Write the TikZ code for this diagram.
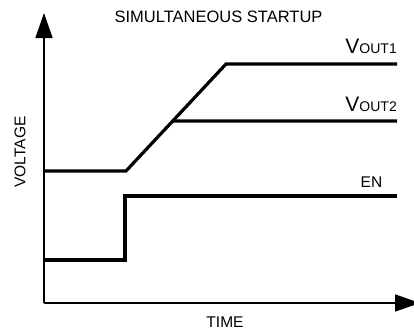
\documentclass[tikz,border=0pt]{standalone}
\usepackage{fontspec}
\setmainfont{Liberation Sans}
\usepackage{tikz}
\usetikzlibrary{arrows.meta,calc}
\newcommand{\lblfont}{\fontsize{15.5}{18}\selectfont}
\newcommand{\vout}[1]{\fontsize{21}{22}\selectfont V\raisebox{-0.5pt}{\fontsize{14}{15}\selectfont OUT#1}}
\tikzset{
  axisline/.style={line width=1.6pt,-{Triangle[length=25pt,width=17pt]}},
  waveline/.style={line width=3.2pt,line join=miter,line cap=butt},
  lbl/.style={font=\lblfont,inner sep=0pt}
}

\begin{document}
\begin{tikzpicture}[x=1pt,y=-1pt]
\useasboundingbox (0,0) rectangle (414,330);
\clip (0,0) rectangle (414,330);
% axes
\coordinate (origin) at (44,303);
\coordinate (ytip) at (44,13);
\coordinate (xtip) at (420,303);
\draw[axisline] (origin) -- (ytip);
\draw[axisline] (origin) -- (xtip);
% VOUT1 / VOUT2 ramp
\coordinate (v0) at (44,171);
\coordinate (rampstart) at (126,171);
\coordinate (rampend) at (226,64);
\coordinate (v1end) at (397,64);
\coordinate (v2start) at ($(rampstart)!0.467!(rampend)$);
\coordinate (v2end) at (397,121);
\draw[waveline] (v0) -- (rampstart) -- (rampend) -- (v1end);
\draw[waveline] (v2start) -- (v2end);
% EN step
\coordinate (en0) at (44,260);
\coordinate (enlow) at (125,260);
\coordinate (enhigh) at (125,196);
\coordinate (enend) at (397,196);
\draw[waveline] (en0) -- (enlow) -- (enhigh) -- (enend);
% labels
\node[lbl,font=\fontsize{16.5}{18}\selectfont] (title) at (218.5,17) {SIMULTANEOUS STARTUP};
\node[lbl,anchor=base east] (vout1) at (397,53) {\vout{1}};
\node[lbl,anchor=base east] (vout2) at (397,111) {\vout{2}};
\node[lbl,anchor=base] (en) at (371.5,187) {EN};
\node[lbl,rotate=90] (voltage) at (20,152) {VOLTAGE};
\node[lbl,anchor=base] (time) at (225,327) {TIME};
\end{tikzpicture}
\end{document}
